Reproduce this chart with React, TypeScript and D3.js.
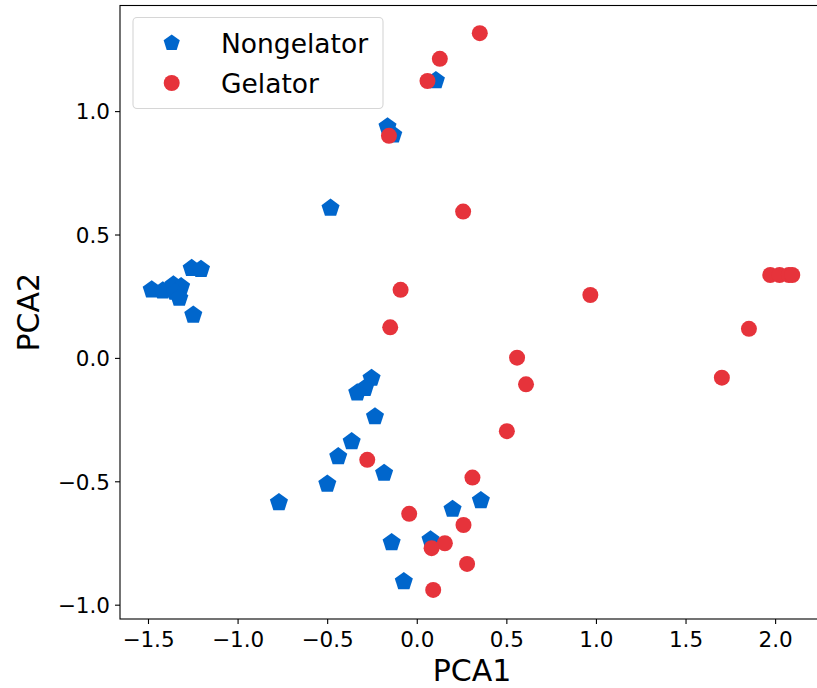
import React from "react";
import * as d3 from "d3";

const nongelatorX = [-1.482, -1.420, -1.361, -1.318, -1.352, -1.328, -1.259, -1.207, -1.250, -0.484, -0.255, -0.292, -0.335, -0.236, -0.366, -0.441, -0.185, -0.502, -0.772, -0.143, -0.075, 0.074, 0.197, 0.355, 0.104, -0.166, -0.134];
const nongelatorY = [0.278, 0.274, 0.298, 0.291, 0.269, 0.244, 0.365, 0.361, 0.176, 0.609, -0.080, -0.121, -0.139, -0.236, -0.337, -0.398, -0.465, -0.509, -0.584, -0.746, -0.904, -0.735, -0.611, -0.576, 1.126, 0.939, 0.906];

const gelatorX = [0.349, 0.126, 0.057, -0.158, 0.256, -0.093, 0.966, -0.151, 1.851, 1.700, 0.557, 0.607, 0.500, 0.308, 0.258, 0.278, -0.279, -0.045, 0.154, 0.080, 0.089, 1.970, 2.022, 2.074, 2.093];
const gelatorY = [1.318, 1.214, 1.124, 0.902, 0.595, 0.278, 0.257, 0.126, 0.120, -0.078, 0.003, -0.105, -0.295, -0.483, -0.675, -0.833, -0.411, -0.630, -0.749, -0.769, -0.938, 0.338, 0.338, 0.338, 0.338];

const xTicks = [-1.5, -1.0, -0.5, 0.0, 0.5, 1.0, 1.5, 2.0];
const yTicks = [-1.0, -0.5, 0.0, 0.5, 1.0];
const seriesNames = ["Nongelator", "Gelator"];

const BLUE = "#0066cc";
const RED = "#e6333b";
const FONT = "DejaVu Sans, sans-serif";

function pentagonPath(cx: number, cy: number, r: number): string {
  const pts: [number, number][] = d3.range(5).map((i) => {
    const a = -Math.PI / 2 + (i * 2 * Math.PI) / 5;
    return [cx + r * Math.cos(a), cy + r * Math.sin(a)];
  });
  return (d3.line()(pts) || "") + "Z";
}

const fmt = (v: number) => {
  const s = v.toFixed(1);
  return s.startsWith("-") ? "\u2212" + s.slice(1) : s;
};

export default function App() {
  const W = 817, H = 688;
  const left = 120, right = 824, top = 5.5, bottom = 619;
  const x = d3.scaleLinear().domain([-1.659, 2.27]).range([left, right]);
  const y = d3.scaleLinear().domain([-1.056, 1.43]).range([bottom, top]);
  const R = 8;
  const PR = 9.5;

  return (
    <svg width={W} height={H} style={{ position: "absolute", left: 0, top: 0, background: "#fff" }} fontFamily={FONT}>
      <rect x={0} y={0} width={W} height={H} fill="#fff" />
      <defs>
        <clipPath id="plotclip">
          <rect x={left} y={top} width={right - left} height={bottom - top} />
        </clipPath>
      </defs>
      <g clipPath="url(#plotclip)">
        {nongelatorX.map((v, i) => (
          <path key={"n" + i} d={pentagonPath(x(v), y(nongelatorY[i]), PR)} fill={BLUE} />
        ))}
        {gelatorX.map((v, i) => (
          <circle key={"g" + i} cx={x(v)} cy={y(gelatorY[i])} r={R} fill={RED} />
        ))}
      </g>
      {/* spines */}
      <rect x={left} y={top} width={right - left} height={bottom - top} fill="none" stroke="#000" strokeWidth={1.1} />
      {/* x ticks */}
      {xTicks.map((t) => (
        <g key={"x" + t}>
          <line x1={x(t)} x2={x(t)} y1={bottom} y2={bottom + 5} stroke="#000" strokeWidth={1.1} />
          <text x={x(t)} y={bottom + 28} textAnchor="middle" fontSize={21.5} fill="#000">{fmt(t)}</text>
        </g>
      ))}
      {/* y ticks */}
      {yTicks.map((t) => (
        <g key={"y" + t}>
          <line x1={left - 5} x2={left} y1={y(t)} y2={y(t)} stroke="#000" strokeWidth={1.1} />
          <text x={left - 10} y={y(t)} dy="0.36em" textAnchor="end" fontSize={21.5} fill="#000">{fmt(t)}</text>
        </g>
      ))}
      <text x={472} y={681} textAnchor="middle" fontSize={30} fill="#000">PCA1</text>
      <text transform={`translate(39,${(top + bottom) / 2}) rotate(-90)`} textAnchor="middle" fontSize={30} fill="#000">PCA2</text>
      {/* legend */}
      <rect x={133} y={17.5} width={250} height={91} rx={4} fill="#fff" fillOpacity={0.8} stroke="#d6d6d6" strokeWidth={1.1} />
      <path d={pentagonPath(171.7, 43, 8.5)} fill={BLUE} />
      <circle cx={171.7} cy={83} r={8} fill={RED} />
      <text x={221} y={43} dy="0.36em" fontSize={26.5} fill="#000">{seriesNames[0]}</text>
      <text x={221} y={83} dy="0.36em" fontSize={26.5} fill="#000">{seriesNames[1]}</text>
    </svg>
  );
}
